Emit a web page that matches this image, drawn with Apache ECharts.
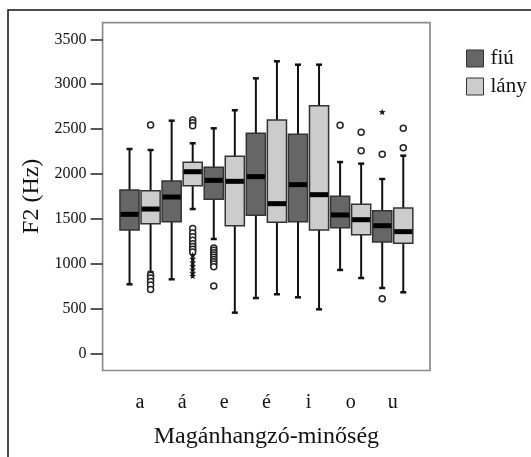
<!DOCTYPE html>
<html>
<head>
<meta charset="utf-8">
<script src="https://cdn.jsdelivr.net/npm/echarts@6/dist/echarts.min.js"></script>
<style>
  html, body { margin: 0; background: #fff; }
  #chart { width: 531px; height: 457px; }
</style>
</head>
<body>
<div id="chart"></div>
<script>
const categories = ["a", "á", "e", "é", "i", "o", "u"];
const yTicks = [0, 500, 1000, 1500, 2000, 2500, 3000, 3500];

// [min, Q1, median, Q3, max] per category
const boysBoxes = [
  [769, 1374, 1549, 1820, 2277],
  [825, 1467, 1742, 1921, 2593],
  [1274, 1717, 1928, 2073, 2508],
  [616, 1538, 1969, 2452, 3065],
  [624, 1467, 1880, 2441, 3217],
  [929, 1400, 1542, 1750, 2132],
  [728, 1241, 1422, 1590, 1943]
];
const girlsBoxes = [
  [905, 1445, 1608, 1813, 2266],
  [1608, 1868, 2024, 2129, 2341],
  [453, 1422, 1917, 2196, 2709],
  [658, 1460, 1668, 2601, 3255],
  [490, 1374, 1768, 2760, 3217],
  [839, 1322, 1489, 1661, 2114],
  [680, 1226, 1356, 1620, 2203]
];

// [category index, value]
const boysOutliers = [
  [2, 1175], [2, 1150], [2, 1120], [2, 1095], [2, 1070], [2, 1045],
  [2, 1020], [2, 995], [2, 965], [2, 750],
  [5, 2541],
  [6, 2218], [6, 609]
];
const boysExtremes = [[6, 2686]];
const girlsOutliers = [
  [0, 2545], [0, 870], [0, 840], [0, 800], [0, 760], [0, 710],
  [1, 2600], [1, 2570], [1, 2535],
  [1, 1390], [1, 1340], [1, 1300], [1, 1260], [1, 1220], [1, 1190], [1, 1160], [1, 1130],
  [5, 2463], [5, 2259],
  [6, 2508], [6, 2292]
];
const girlsExtremes = [
  [1, 1090], [1, 1050], [1, 1010], [1, 970], [1, 930], [1, 890], [1, 860]
];

const FONT = "'Liberation Serif', 'DejaVu Serif', serif";
const DARK = "#666666";
const LIGHT = "#cccccc";

function boxRenderer(side, fill) {
  return function (params, api) {
    const cat = api.value(0);
    const band = api.size([1, 0])[0];
    const x = api.coord([cat, 0])[0] + side * band * 0.25;
    const half = band * 0.227;
    const yMin = api.coord([cat, api.value(1)])[1];
    const yQ1 = api.coord([cat, api.value(2)])[1];
    const yMed = api.coord([cat, api.value(3)])[1];
    const yQ3 = api.coord([cat, api.value(4)])[1];
    const yMax = api.coord([cat, api.value(5)])[1];
    const whisker = { stroke: "#111", lineWidth: 2 };
    return {
      type: "group",
      children: [
        { type: "line", shape: { x1: x, y1: yMax, x2: x, y2: yQ3 }, style: whisker },
        { type: "line", shape: { x1: x, y1: yQ1, x2: x, y2: yMin }, style: whisker },
        { type: "line", shape: { x1: x - 3, y1: yMax, x2: x + 3, y2: yMax }, style: { stroke: "#111", lineWidth: 2.5 } },
        { type: "line", shape: { x1: x - 3, y1: yMin, x2: x + 3, y2: yMin }, style: { stroke: "#111", lineWidth: 2.5 } },
        {
          type: "rect",
          shape: { x: x - half, y: yQ3, width: half * 2, height: yQ1 - yQ3 },
          style: { fill: fill, stroke: "#333", lineWidth: 1.5 }
        },
        {
          type: "rect",
          shape: { x: x - half + 0.5, y: yMed - 2.5, width: half * 2 - 1, height: 5 },
          style: { fill: "#000" }
        }
      ]
    };
  };
}

function pointRenderer(side, kind) {
  return function (params, api) {
    const cat = api.value(0);
    const band = api.size([1, 0])[0];
    const p = api.coord([cat, api.value(1)]);
    const x = p[0] + side * band * 0.25;
    const y = p[1];
    if (kind === "circle") {
      return {
        type: "circle",
        shape: { cx: x, cy: y, r: 3 },
        style: { fill: "#fff", stroke: "#222", lineWidth: 1.5 }
      };
    }
    const pts = [];
    for (let i = 0; i < 10; i++) {
      const r = i % 2 === 0 ? 3.6 : 1.5;
      const a = -Math.PI / 2 + (i * Math.PI) / 5;
      pts.push([x + r * Math.cos(a), y + r * Math.sin(a)]);
    }
    return { type: "polygon", shape: { points: pts }, style: { fill: "#111" } };
  };
}

function toRows(boxes) {
  return boxes.map((b, i) => [i].concat(b));
}

const chart = echarts.init(document.getElementById("chart"), null, { renderer: "canvas" });

chart.setOption({
  animation: false,
  backgroundColor: "#fff",
  textStyle: { fontFamily: FONT },
  graphic: [
    {
      type: "polyline",
      shape: { points: [[8, 457], [8, 10], [531, 10]] },
      style: { stroke: "#111", lineWidth: 1.5, fill: null },
      z: 0
    },
    {
      type: "rect",
      shape: { x: 102.6, y: 22.7, width: 327.4, height: 347.8 },
      style: { stroke: "#8c8c8c", lineWidth: 1.7, fill: null },
      z: 0
    }
  ],
  legend: {
    orient: "vertical",
    left: 466,
    top: 48,
    padding: 0,
    itemWidth: 17,
    itemHeight: 17,
    itemGap: 7,
    icon: "rect",
    data: [
      { name: "fiú", itemStyle: { color: DARK, borderColor: "#333", borderWidth: 1 } },
      { name: "lány", itemStyle: { color: LIGHT, borderColor: "#333", borderWidth: 1 } }
    ],
    textStyle: { fontFamily: FONT, fontSize: 21, lineHeight: 21, color: "#111", padding: [0, 0, 0, 2] }
  },
  grid: { left: 119, right: 117.2, top: 39.3, bottom: 103.7 },
  xAxis: {
    type: "category",
    data: categories,
    offset: 17.2,
    axisLine: { show: false },
    axisTick: { alignWithLabel: true, length: 16, lineStyle: { color: "#222", width: 1.5 } },
    axisLabel: { margin: 22, fontFamily: FONT, fontSize: 20, color: "#111" },
    splitLine: { show: false },
    name: "Magánhangzó-minőség",
    nameLocation: "middle",
    nameGap: 54,
    nameTextStyle: { fontFamily: FONT, fontSize: 24, color: "#111" }
  },
  yAxis: {
    type: "value",
    min: yTicks[0],
    max: yTicks[yTicks.length - 1],
    interval: yTicks[1] - yTicks[0],
    offset: 16.4,
    axisLine: { show: false },
    axisTick: { show: true, length: 12, lineStyle: { color: "#222", width: 1.5 } },
    axisLabel: { margin: 16, fontFamily: FONT, fontSize: 16, color: "#111", formatter: (v) => String(v) },
    splitLine: { show: false },
    name: "F2 (Hz)",
    nameLocation: "middle",
    nameGap: 54,
    nameTextStyle: { fontFamily: FONT, fontSize: 24, color: "#111" }
  },
  series: [
    {
      name: "fiú",
      type: "custom",
      itemStyle: { color: DARK, borderColor: "#333" },
      renderItem: boxRenderer(-1, DARK),
      encode: { x: 0, y: [1, 2, 3, 4, 5] },
      data: toRows(boysBoxes)
    },
    {
      name: "lány",
      type: "custom",
      itemStyle: { color: LIGHT, borderColor: "#333" },
      renderItem: boxRenderer(1, LIGHT),
      encode: { x: 0, y: [1, 2, 3, 4, 5] },
      data: toRows(girlsBoxes)
    },
    {
      name: "fiú kiugró",
      type: "custom",
      renderItem: pointRenderer(-1, "circle"),
      encode: { x: 0, y: 1 },
      data: boysOutliers
    },
    {
      name: "fiú extrém",
      type: "custom",
      renderItem: pointRenderer(-1, "star"),
      encode: { x: 0, y: 1 },
      data: boysExtremes
    },
    {
      name: "lány kiugró",
      type: "custom",
      renderItem: pointRenderer(1, "circle"),
      encode: { x: 0, y: 1 },
      data: girlsOutliers
    },
    {
      name: "lány extrém",
      type: "custom",
      renderItem: pointRenderer(1, "star"),
      encode: { x: 0, y: 1 },
      data: girlsExtremes
    }
  ]
});
</script>
</body>
</html>
